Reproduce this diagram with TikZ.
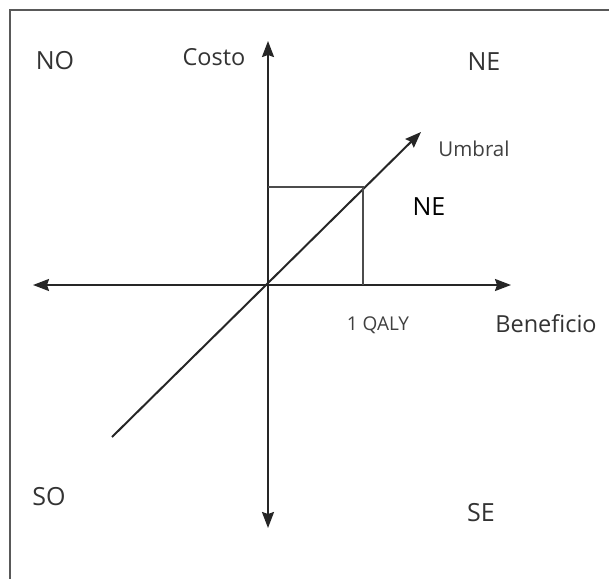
\documentclass[tikz,border=0pt]{standalone}
\usepackage{fontspec}
\setmainfont{Open Sans}
\usetikzlibrary{arrows.meta}
\tikzset{
  axis/.style={line width=2pt, draw=black!85, -{Stealth[length=16pt,width=12pt,inset=2pt]}},
  thin/.style={line width=2pt, draw=black!70},
  lbl/.style={inner sep=0pt, text=black!80, font=\fontsize{25}{25}\selectfont},
  word/.style={inner sep=0pt, text=black!80, font=\fontsize{23.5}{24}\selectfont},
  small/.style={inner sep=0pt, text=black!75, font=\fontsize{19}{19}\selectfont}
}
\begin{document}
\begin{tikzpicture}[x=1pt,y=-1pt]
\useasboundingbox (0,0) rectangle (609,578);
\draw[line width=1.4pt, draw=black!65] (10,600) -- (10,10) -- (620,10);
\coordinate (O) at (268,285);
\coordinate (up) at (268,41);
\coordinate (down) at (268,528);
\coordinate (left) at (33,285);
\coordinate (right) at (511,285);
\coordinate (dlow) at (112,437);
\coordinate (dup) at (421,132);
\coordinate (c) at (363,187);
\coordinate (cx) at (363,285);
\coordinate (cy) at (268,187);
\draw[axis] (O) -- (up);
\draw[axis] (O) -- (down);
\draw[axis] (O) -- (left);
\draw[axis] (O) -- (right);
\draw[axis] (dlow) -- (dup);
\draw[thin] (cy) -- (c) -- (cx);
\node[lbl] (no) at (55,61) {NO};
\node[word] (costo) at (214,57) {Costo};
\node[lbl] (ne1) at (484,62) {NE};
\node[small, font=\fontsize{20.5}{21}\selectfont] (umbral) at (474,149) {Umbral};
\node[lbl, text=black] (ne2) at (429,207) {NE};
\node[small] (qaly) at (378,325) {1 QALY};
\node[word] (ben) at (546,324) {Beneficio};
\node[lbl] (so) at (49,497) {SO};
\node[lbl] (se) at (481,513) {SE};
\end{tikzpicture}
\end{document}
